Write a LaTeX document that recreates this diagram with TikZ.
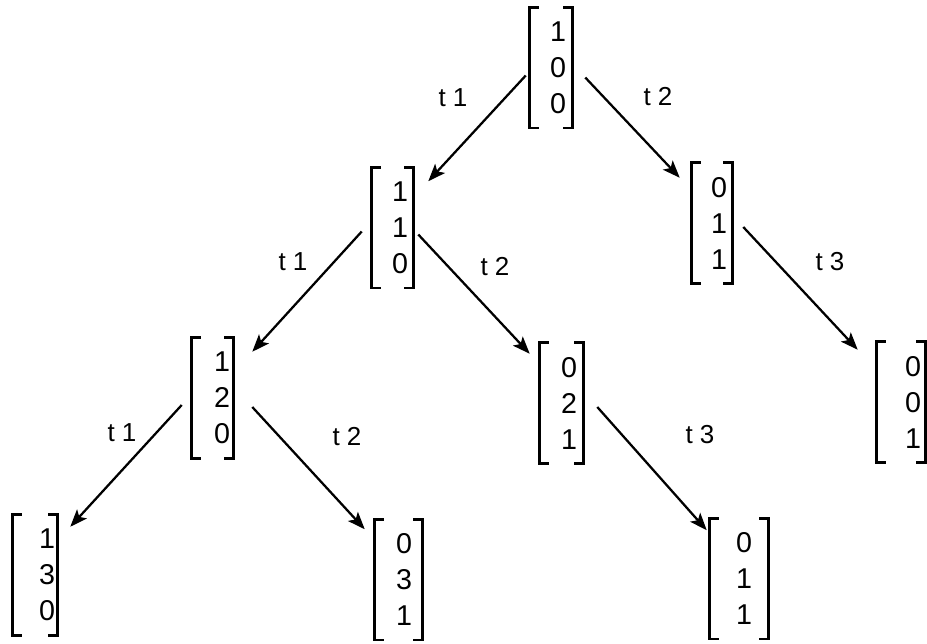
\documentclass[tikz,border=0pt]{standalone}
\usepackage{fontspec}
\setmainfont{Liberation Sans}
\usetikzlibrary{arrows.meta,calc}
\begin{document}
\begin{tikzpicture}[x=0.75pt,y=-0.75pt,
  vec/.style={inner sep=0pt, minimum height=90pt, align=right, font=\fontsize{21.5}{27}\selectfont},
  brk/.style={line width=1.9pt, line join=miter},
  arr/.style={line width=1.7pt, -{Stealth[length=13pt,width=10pt,inset=3pt]}},
  lbl/.style={font=\fontsize{19.5}{22}\selectfont, inner sep=0pt}]
\useasboundingbox (0,0) rectangle (927,643);

% state vectors
\node[vec, minimum width=31.5pt,  text width=22.5pt]  (n0) at (551,67.5)  {1\\0\\0};
\node[vec, minimum width=30.75pt, text width=23.25pt] (n1) at (392.5,227.5) {1\\1\\0};
\node[vec, minimum width=30pt,    text width=22.5pt]  (n2) at (712,223)   {0\\1\\1};
\node[vec, minimum width=30.75pt, text width=26.25pt] (n3) at (212.5,398) {1\\2\\0};
\node[vec, minimum width=32.25pt, text width=23.25pt] (n4) at (561.5,403) {0\\2\\1};
\node[vec, minimum width=36pt,    text width=30pt]    (n5) at (901,402)   {0\\0\\1};
\node[vec, minimum width=33pt,    text width=30pt]    (n6) at (35,575)    {1\\3\\0};
\node[vec, minimum width=35.25pt, text width=20.25pt] (n7) at (398.5,579.5) {0\\3\\1};
\node[vec, minimum width=43.5pt,  text width=19.5pt]  (n8) at (739,578.5) {0\\1\\1};

% brackets
\foreach \n in {n0,n1,n2,n3,n4,n5,n6,n7,n8}{
  \draw[brk] ($(\n.north west)+(9,0)$) -- (\n.north west) -- (\n.south west) -- ++(9,0);
  \draw[brk] ($(\n.north east)+(-9,0)$) -- (\n.north east) -- (\n.south east) -- ++(-9,0);
}

% transitions
\draw[arr] ($(n0.west)+(-4,8)$)   -- ($(n1.north east)+(15,14)$);
\draw[arr] ($(n0.east)+(13,10)$)  -- ($(n2.north west)+(-12,15)$);
\draw[arr] ($(n1.west)+(-10,4)$)  -- ($(n3.north east)+(19,14)$);
\draw[arr] ($(n1.east)+(5,7)$)    -- ($(n4.north west)+(-10,11)$);
\draw[arr] ($(n2.east)+(11,4)$)   -- ($(n5.north west)+(-19,8)$);
\draw[arr] ($(n3.west)+(-10,7)$)  -- ($(n6.north east)+(13,12)$);
\draw[arr] ($(n3.east)+(19,9)$)   -- ($(n7.north west)+(-10,10)$);
\draw[arr] ($(n4.east)+(14,4)$)   -- ($(n8.north west)+(-3,12)$);

% labels
\node[lbl] (l01) at (453,98)  {t 1};
\node[lbl] (l02) at (658,97)  {t 2};
\node[lbl] (l13) at (293,262) {t 1};
\node[lbl] (l14) at (495,267) {t 2};
\node[lbl] (l25) at (830,262) {t 3};
\node[lbl] (l36) at (122,433) {t 1};
\node[lbl] (l37) at (347,437) {t 2};
\node[lbl] (l48) at (700,435) {t 3};
\end{tikzpicture}
\end{document}
